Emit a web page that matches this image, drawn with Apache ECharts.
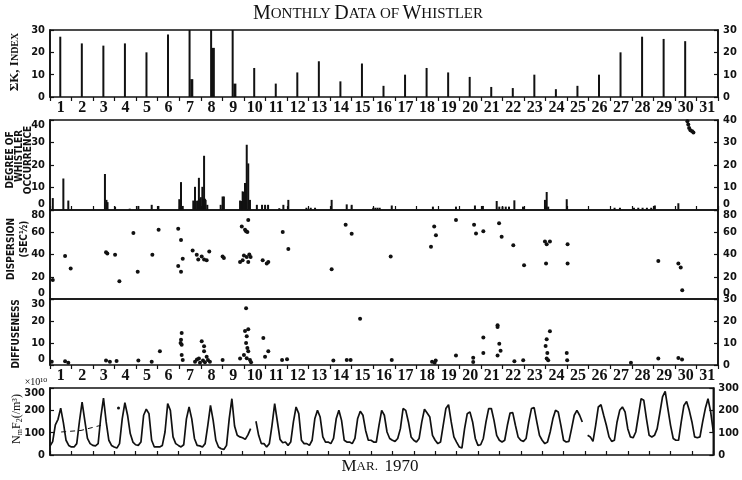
<!DOCTYPE html>
<html><head><meta charset="utf-8">
<script src="https://cdn.jsdelivr.net/npm/echarts@6/dist/echarts.min.js"></script>
<style>html,body{margin:0;padding:0;background:#fff}#c{width:742px;height:480px}</style>
</head><body><div id="c"></div>
<script>
// ---------- data ----------
const dayLabels = ['1','2','3','4','5','6','7','8','9','10','11','12','13','14','15','16','17','18','19','20','21','22','23','24','25','26','27','28','29','30','31'];
// Sum of K index per day (bars clipped at the top of the scale on days 7-9)
const sumK = [27,24,23,24,20,28,30,30,30,13,6,11,16,7,15,5,10,13,11,9,4.5,4,10,3.5,5,10,20,27,26,25,0];
// wrap-around remainder bars drawn beside the clipped ones: [day, value]
const sumKOverflow = [[7,8],[8,22],[9,6]];
// Degree of whistler occurrence: [time in days from Mar 1 00h, value]
const occurrence = [[0.13,5.3],[0.62,14],[0.85,4.2],[2.55,16],[2.62,4.5],[2.67,3.5],[3.02,1.5],[3.7,0.6],[4.1,1.8],[4.72,2.3],[5.03,1.8],
 [6.0,4.8],[6.08,12.4],[6.16,1.8],[6.65,4.2],[6.73,10.3],[6.77,4],[6.84,4.2],[6.91,14.3],[6.96,5],[7.0,5.7],[7.07,10.3],[7.11,5],[7.15,24.1],[7.19,5],[7.22,4.5],[7.3,2.3],
 [7.92,2.3],[8.01,6],[8.07,6],[8.82,4.2],[8.88,4],[8.94,8.3],[9.0,8],[9.05,12],[9.13,29],[9.2,20.7],[9.28,4.5],[9.6,2.3],[9.84,2.3],[9.98,2.3],[10.12,2.3],
 [10.64,0.8],[10.83,2.3],[11.06,4.5],[11.9,1],[12.1,1],[12.3,1],[13.07,4.5],[13.77,2.5],[14.0,2.3],[15.0,1],[15.1,1],[15.2,1],[15.3,1],[15.86,2],
 [17.77,1.5],[18.84,1.5],[19.72,2],[20.09,1.8],[20.73,4],[20.85,1.5],[21.0,1.5],[21.15,1.5],[21.3,1.5],[21.55,4.3],[21.95,1.5],
 [22.97,4.5],[23.05,8],[23.12,1.5],[23.98,4.8],[26.2,1],[26.45,1],[27.1,1],[27.3,1],[27.5,1],[27.7,1],[27.9,1],[28.07,2],[29.16,3]];
const occurrenceBlot = [[29.58,39.5],[29.62,38],[29.66,36.5],[29.72,35.5],[29.8,35],[29.86,34.5]];
// Dispersion (sec^1/2): [time, value]
const dispersion = [[0.13,17],[0.70,38.6],[0.96,27.5],[2.60,42],[2.66,41],[3.02,39.7],[3.22,15.9],[3.87,59.4],[4.07,24.6],[4.75,39.7],[5.04,62.3],
 [5.95,63.2],[5.95,29.6],[6.08,53],[6.08,24.6],[6.16,36.2],[6.62,43.5],[6.81,39.7],[6.88,35.4],[7.04,38.3],[7.15,35.4],[7.27,34.8],[7.39,42.6],
 [8.01,38.3],[8.07,36.8],[8.82,33.3],[8.90,65.2],[8.94,34.8],[9.00,39.1],[9.05,62.3],[9.10,60.9],[9.16,60.3],[9.13,37.7],[9.20,71],[9.20,33.3],[9.25,40],[9.31,37.7],
 [9.87,34.8],[10.06,31.9],[10.13,33.3],[10.80,60.3],[11.06,44.9],[13.07,26.7],[13.72,66.7],[14.00,58.6],[15.81,38.3],[17.68,47],[17.83,65.2],[17.91,57.4],
 [18.84,71],[19.68,66.7],[19.77,58.9],[20.11,60.9],[20.84,68.1],[20.96,55.9],[21.50,48.4],[22.0,30.4],[22.97,51.6],[23.05,49.3],[23.20,51.6],[23.02,31.9],
 [24.02,49.3],[24.02,31.9],[28.23,34.1],[29.16,31.9],[29.27,28.4],[29.34,7.8]];
// Diffuseness: [time, value]
const diffuseness = [[0.08,1.5],[0.70,1.7],[0.85,1.0],[2.60,2.0],[2.78,1.5],[3.09,1.8],[4.10,2],[4.72,1.5],[5.10,6.2],
 [6.11,14.6],[6.08,11.5],[6.06,10],[6.11,9.2],[6.11,4.6],[6.16,2.3],
 [6.73,1.5],[6.82,2.5],[6.91,3],[6.96,1],[7.04,10.8],[7.10,2],[7.15,8.5],[7.15,6.2],[7.19,1.2],[7.27,3.8],[7.33,2.3],[7.42,1.5],
 [8.01,2.3],[8.82,3],[9.10,25.8],[9.05,15.4],[9.20,16.2],[9.13,13.1],[9.10,10],[9.16,7.7],[9.20,6.2],[9.00,4.6],[9.13,3.1],[9.28,2.3],[9.33,1.2],
 [9.90,12.3],[9.98,3.8],[10.13,6.2],[10.77,2.3],[11.0,2.6],[13.15,2],[13.77,2.3],[13.95,2.3],[14.39,21],
 [15.86,2.3],[17.73,1.5],[17.85,1],[17.9,2],[18.84,4.3],[19.64,3.3],[19.64,1.4],[20.11,12.5],[20.11,5.4],[20.77,18.1],[20.77,17.3],[20.85,9.7],[20.91,6.5],[20.77,4.3],
 [21.55,1.7],[21.96,2.2],[23.0,8.6],[23.05,11.7],[23.20,15.3],[23.08,5.4],[23.05,3],[23.12,2.2],[23.98,5.4],[24.0,2.2],[26.96,1],[28.23,3],[29.16,3.2],[29.33,2.5]];
// NmF2 (x10^10 /m^3), 3-hourly readings (00,03,...,21 h) for each day, plus the end of Mar 31
const nmf2 = [
 40,60,135,160,210,145,66,43,
 36,36,51,150,237,155,74,51,
 43,41,51,170,255,148,66,43,
 36,31,51,162,234,178,96,58,
 46,43,58,178,205,185,66,36,
 36,36,43,103,230,200,81,51,
 43,36,46,162,215,162,74,43,
 41,36,51,133,222,155,66,36,
 28,25,43,162,252,130,88,81,
 77,70,90,118,null,151,88,51,
 51,36,51,133,230,150,70,55,
 58,43,58,148,215,185,66,51,
 51,43,66,162,200,170,81,58,
 58,51,74,162,200,155,66,58,
 58,51,74,162,196,178,110,66,
 66,58,58,133,200,178,103,74,
 66,61,74,118,208,200,148,81,
 66,58,74,148,205,188,170,88,
 66,51,58,133,208,225,148,81,
 58,36,31,118,185,193,148,74,
 43,46,74,148,208,208,155,88,
 66,58,66,133,188,190,133,81,
 66,61,74,148,208,212,148,88,
 66,51,58,103,162,200,193,133,
 66,58,61,118,178,200,178,148,
 null,88,81,61,133,215,225,178,
 133,81,61,66,148,200,215,193,
 118,81,77,103,178,252,245,162,
 88,81,88,118,188,260,285,208,
 133,74,66,66,148,222,240,200,
 148,81,77,81,148,208,252,193,
 103];
const nmf2Reference = [[0.52,103],[1.45,110],[2.38,133]];
const nmf2Stray = [[3.2,211]];

// ---------- chart ----------
const chart = echarts.init(document.getElementById('c'), null, {renderer:'canvas'});
const BLACK = '#111';
const grids = [
  {top:30, height:67},
  {top:120, height:90},
  {top:210, height:89},
  {top:299, height:66},
  {top:388, height:67}
].map(g => Object.assign({left:50, right:24, show:true, borderColor:BLACK, borderWidth:1.6, backgroundColor:'transparent'}, g));

const dayFont = {color:BLACK, fontSize:16, fontWeight:'bold', fontFamily:"'Liberation Serif','DejaVu Serif',serif"};
function catAxis(g, pos, showLabels, visible){
  return {type:'category', gridIndex:g, position:pos, data:dayLabels, boundaryGap:true, show:visible,
    axisLine:{show:false}, axisTick:{show:true, length:4, lineStyle:{color:BLACK, width:1.2}},
    axisLabel:Object.assign({show:showLabels, margin:3, interval:0}, dayFont), splitLine:{show:false}};
}
function valX(g){ return {type:'value', gridIndex:g, min:0, max:31, show:false}; }
const xAxis = [
  catAxis(0,'bottom',true,true), valX(0),
  catAxis(1,'top',false,true), valX(1),
  catAxis(2,'bottom',false,false), valX(2),
  catAxis(3,'bottom',true,true), valX(3),
  catAxis(4,'top',false,true), valX(4)
];
const yFont = {color:BLACK, fontSize:11, fontWeight:'bold', fontFamily:"'DejaVu Sans Condensed','DejaVu Sans',sans-serif"};
function yAx(g, pos, max, interval, vMin, vMax){
  return {type:'value', gridIndex:g, position:pos, min:0, max:max, interval:interval,
    axisLine:{show:true, lineStyle:{color:BLACK, width:1.6}},
    axisTick:{show:true, inside:true, length:4, lineStyle:{color:BLACK, width:1.2}},
    axisLabel:Object.assign({margin:5, verticalAlignMinLabel:vMin, verticalAlignMaxLabel:vMax}, yFont),
    splitLine:{show:false}};
}
const yAxis = [
  yAx(0,'left',30,10,'middle','middle'), yAx(0,'right',30,10,'middle','middle'),
  yAx(1,'left',40,10,'bottom','top'), yAx(1,'right',40,10,'bottom','middle'),
  yAx(2,'left',80,20,'bottom','top'), yAx(2,'right',80,20,'bottom','top'),
  yAx(3,'left',30,10,'bottom','top'), yAx(3,'right',30,10,'middle','middle'),
  yAx(4,'left',300,100,'middle','top'), yAx(4,'right',300,100,'middle','middle')
];

const dot = {color:BLACK, opacity:1};
const series = [
  {type:'bar', xAxisIndex:1, yAxisIndex:0, barWidth:2, barGap:'-100%', itemStyle:{color:BLACK},
   data: sumK.map((v,i)=>[i+0.5, v])},
  {type:'bar', xAxisIndex:1, yAxisIndex:0, barWidth:3, barGap:'-100%', itemStyle:{color:BLACK},
   data: sumKOverflow.map(([d,v])=>[d-0.42, v])},
  {type:'bar', xAxisIndex:3, yAxisIndex:2, barWidth:2, barGap:'-100%', itemStyle:{color:BLACK}, data: occurrence},
  {type:'scatter', xAxisIndex:3, yAxisIndex:2, symbolSize:4, itemStyle:dot, data: occurrenceBlot},
  {type:'scatter', xAxisIndex:5, yAxisIndex:4, symbolSize:4, itemStyle:dot, data: dispersion},
  {type:'scatter', xAxisIndex:7, yAxisIndex:6, symbolSize:4, itemStyle:dot, data: diffuseness},
  {type:'line', xAxisIndex:9, yAxisIndex:8, showSymbol:false, connectNulls:false,
   lineStyle:{color:BLACK, width:1.7}, data: nmf2.map((v,i)=>[i/8, v])},
  {type:'line', xAxisIndex:9, yAxisIndex:8, showSymbol:false, lineStyle:{color:BLACK, width:1, type:[5,4]}, data: nmf2Reference},
  {type:'scatter', xAxisIndex:9, yAxisIndex:8, symbolSize:3, itemStyle:dot, data: nmf2Stray}
];

const serif = "'Liberation Serif','DejaVu Serif',serif";
const sans = "'DejaVu Sans Condensed','DejaVu Sans',sans-serif";
function vText(x, y, text, rich, extra){
  return Object.assign({type:'text', x:x, y:y, rotation:Math.PI/2, silent:true,
    style:{text:text, rich:rich, align:'center', verticalAlign:'middle', fill:BLACK}}, extra||{});
}
const capRich = {a:{fontSize:13, fontWeight:'bold', fontFamily:serif, fill:BLACK}, b:{fontSize:10, fontWeight:'bold', fontFamily:serif, fill:BLACK}};
const condRich = {a:{fontSize:10, fontWeight:'bold', fontFamily:sans, fill:BLACK}};
const graphic = [
  {type:'text', x:368, y:14, silent:true, style:{text:'{a|M}{b|ONTHLY} {a|D}{b|ATA} {b|OF} {a|W}{b|HISTLER}', align:'center', verticalAlign:'middle',
    rich:{a:{fontSize:20, fontFamily:serif, fill:BLACK}, b:{fontSize:15, fontFamily:serif, fill:BLACK}}}},
  vText(15, 62, '{a|ΣK, I}{b|NDEX}', capRich),
  vText(10, 160, '{a|DEGREE OF}', condRich),
  vText(19, 156, '{a|WHISTLER}', condRich),
  vText(28, 160, '{a|OCCURRENCE}', condRich),
  vText(11, 249, '{a|DISPERSION}', condRich),
  vText(24, 239, '{a|(SEC½)}', condRich),
  vText(16, 334, '{a|DIFFUSENESS}', condRich),
  vText(17, 419, '{a|N}{s|m}{a|F}{s|2}{a|(/m³)}', {a:{fontSize:12, fontFamily:serif, fill:BLACK}, s:{fontSize:8, fontFamily:serif, fill:BLACK, padding:[6,0,0,0]}}),
  {type:'text', x:36, y:382, silent:true, style:{text:'×10¹⁰', align:'center', verticalAlign:'middle', fontSize:10, fontFamily:serif, fill:BLACK}},
  {type:'text', x:380, y:467, silent:true, style:{text:'{a|M}{b|AR.}  {a|1970}', align:'center', verticalAlign:'middle',
    rich:{a:{fontSize:17, fontFamily:serif, fill:BLACK}, b:{fontSize:13, fontFamily:serif, fill:BLACK}}}}
];

chart.setOption({animation:false, backgroundColor:'#fff', grid:grids, xAxis:xAxis, yAxis:yAxis, series:series, graphic:graphic});
</script></body></html>
